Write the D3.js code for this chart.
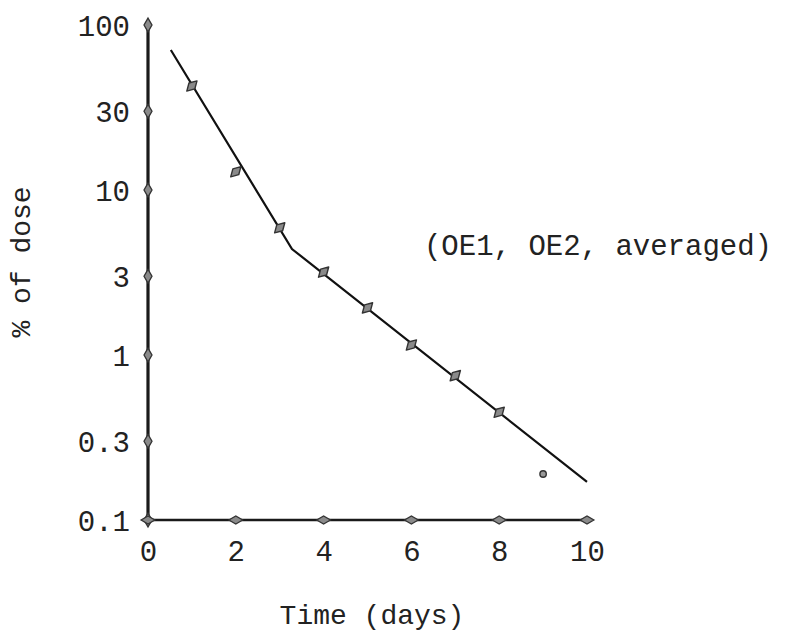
<!DOCTYPE html>
<html>
<head>
<meta charset="utf-8">
<script src="https://cdn.jsdelivr.net/npm/d3@7"></script>
<style>
  body { margin: 0; background: #fff; }
  text { font-family: "Liberation Mono", "DejaVu Sans Mono", monospace; fill: #222; }
</style>
</head>
<body>
<div id="chart"></div>
<script>
// data
const days = [1, 2, 3, 4, 5, 6, 7, 8, 9];
const dosePct = [42.7, 12.9, 5.9, 3.18, 1.93, 1.15, 0.75, 0.45, 0.19];
const fitX = [0.52, 3.28, 10];
const fitY = [70.5, 4.39, 0.17];
const xTicks = [0, 2, 4, 6, 8, 10];
const yTicks = [0.1, 0.3, 1, 3, 10, 30, 100];
const yTickLabels = ["0.1", "0.3", "1", "3", "10", "30", "100"];

const W = 800, H = 631;
const svg = d3.select("#chart").append("svg")
  .attr("width", W).attr("height", H);

const x = d3.scaleLinear().domain([0, 10]).range([148, 587]);
const y = d3.scaleLog().domain([0.1, 100]).range([520, 25]);

// y axis labels
const yAxis = svg.append("g")
  .attr("transform", "translate(" + x(0) + ",0)")
  .call(d3.axisLeft(y).tickValues(yTicks)
    .tickFormat((d, i) => yTickLabels[i]).tickSize(0).tickPadding(18));
yAxis.select(".domain").remove();
yAxis.selectAll("text").style("font-size", "29px").attr("dy", "0.36em").style("fill", "#222");

// x axis labels
const xAxis = svg.append("g")
  .attr("transform", "translate(0," + y(0.1) + ")")
  .call(d3.axisBottom(x).tickValues(xTicks).tickSize(0).tickPadding(20));
xAxis.select(".domain").remove();
xAxis.selectAll("text").style("font-size", "29px").style("fill", "#222");

// thick axis lines
svg.append("line")
  .attr("x1", x(0)).attr("x2", x(0))
  .attr("y1", y(100)).attr("y2", y(0.1))
  .attr("stroke", "#1a1a1a").attr("stroke-width", 3.2);
svg.append("line")
  .attr("x1", x(0)).attr("x2", x(10))
  .attr("y1", y(0.1)).attr("y2", y(0.1))
  .attr("stroke", "#1a1a1a").attr("stroke-width", 2.6);

// diamond tick markers
const diamond = d3.symbol().type(d3.symbolDiamond).size(55);
svg.append("g").selectAll("path")
  .data(yTicks).enter().append("path")
    .attr("d", diamond)
    .attr("transform", d => "translate(" + x(0) + "," + y(d) + ")")
    .attr("fill", "#8a8a8a").attr("stroke", "#333").attr("stroke-width", 1.3);
svg.append("g").selectAll("path")
  .data(xTicks).enter().append("path")
    .attr("d", diamond)
    .attr("transform", d => "translate(" + x(d) + "," + y(0.1) + ") rotate(90)")
    .attr("fill", "#8a8a8a").attr("stroke", "#333").attr("stroke-width", 1.3);

// fitted line
svg.append("path")
  .datum(fitX.map((d, i) => [d, fitY[i]]))
  .attr("fill", "none")
  .attr("stroke", "#111")
  .attr("stroke-width", 2.2)
  .attr("d", d3.line().x(d => x(d[0])).y(d => y(d[1])));

// data points
const pts = days.map((d, i) => ({day: d, v: dosePct[i]}));
svg.append("g").selectAll("path")
  .data(pts.slice(0, 8)).enter().append("path")
    .attr("d", d3.symbol().type(d3.symbolDiamond).size(60))
    .attr("transform", d => "translate(" + x(d.day) + "," + y(d.v) + ") rotate(45)")
    .attr("fill", "#8a8a8a").attr("stroke", "#333").attr("stroke-width", 1.4)
    .attr("stroke-linejoin", "round");
svg.append("g").selectAll("circle")
  .data(pts.slice(8)).enter().append("circle")
    .attr("cx", d => x(d.day)).attr("cy", d => y(d.v)).attr("r", 3.2)
    .attr("fill", "#999").attr("stroke", "#333").attr("stroke-width", 1.4);

// titles
svg.append("text")
  .attr("x", 372).attr("y", 624)
  .attr("text-anchor", "middle")
  .style("font-size", "28px")
  .text("Time (days)");

svg.append("text")
  .attr("transform", "translate(30,262) rotate(-90)")
  .attr("text-anchor", "middle")
  .style("font-size", "28px")
  .text("% of dose");

svg.append("text")
  .attr("x", 598).attr("y", 255)
  .attr("text-anchor", "middle")
  .style("font-size", "29px")
  .text("(OE1, OE2, averaged)");
</script>
</body>
</html>
